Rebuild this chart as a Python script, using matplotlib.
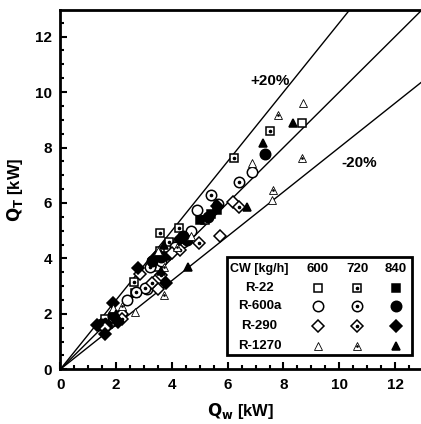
import matplotlib
matplotlib.use("Agg")
import matplotlib.pyplot as plt
from matplotlib.patches import Rectangle
from matplotlib.ticker import MultipleLocator

plt.rcParams['font.family'] = ['Liberation Sans', 'DejaVu Sans']
plt.rcParams['font.weight'] = 'bold'

# measured (Qw) vs calculated (Qt) heat load, kW
r22_600_w = [8.65, 2.2, 3.5, 1.8, 4.2, 5.2]
r22_600_t = [8.87, 1.96, 3.7, 1.7, 4.5, 5.4]
r22_720_w = [6.24, 7.52, 4.25, 3.57, 3.57, 2.64, 3.9, 1.6]
r22_720_t = [7.61, 8.61, 5.09, 4.91, 4.25, 3.16, 4.6, 1.8]
r22_840_w = [5.0, 5.4, 5.6, 3.8, 4.1, 2.68, 3.3, 1.7, 4.5]
r22_840_t = [5.4, 5.6, 5.75, 4.1, 4.35, 2.74, 3.85, 1.65, 4.8]

r600a_600_w = [6.86, 4.89, 5.67, 4.7, 3.1, 3.6, 1.5, 2.4, 4.1]
r600a_600_t = [7.13, 5.75, 5.96, 5.0, 2.91, 3.9, 1.6, 2.5, 4.4]
r600a_720_w = [6.39, 5.40, 3.2, 3.05, 4.4, 1.9, 2.7]
r600a_720_t = [6.75, 6.29, 3.7, 2.95, 4.6, 1.9, 2.8]
r600a_840_w = [7.34, 4.4, 4.55, 3.6, 3.3, 1.5, 1.4, 1.9, 5.3]
r600a_840_t = [7.77, 4.8, 4.65, 4.05, 3.9, 1.65, 1.6, 1.95, 5.5]

r290_600_w = [6.2, 5.72, 2.86, 3.5, 2.2, 1.6, 4.0]
r290_600_t = [6.03, 4.81, 3.44, 2.9, 2.0, 1.5, 4.2]
r290_720_w = [6.4, 4.97, 3.6, 3.3, 2.2, 4.3]
r290_720_t = [5.87, 4.57, 3.4, 3.1, 1.8, 4.3]
r290_840_w = [2.8, 1.9, 2.08, 1.6, 3.8, 3.4, 4.3, 5.6, 1.3]
r290_840_t = [3.64, 2.40, 1.72, 1.29, 3.1, 4.0, 4.7, 5.9, 1.6]

r1270_600_w = [8.69, 6.86, 7.58, 2.68, 3.5, 1.9, 4.7]
r1270_600_t = [9.62, 7.43, 6.11, 2.07, 4.25, 2.2, 4.8]
r1270_720_w = [7.79, 8.65, 7.63, 3.7, 3.7, 2.2, 4.2]
r1270_720_t = [9.17, 7.61, 6.47, 2.67, 3.7, 2.3, 4.4]
r1270_840_w = [8.35, 7.28, 6.68, 4.59, 3.6, 3.7, 2.0]
r1270_840_t = [8.87, 8.17, 5.87, 3.70, 3.55, 4.5, 2.0]

refrigerants = ['R-22', 'R-600a', 'R-290', 'R-1270']
flows = ['600', '720', '840']
band = [1.25, 1.0, 0.8]
line_end = 13

series = {
    ('R-22', '600'): (r22_600_w, r22_600_t),
    ('R-22', '720'): (r22_720_w, r22_720_t),
    ('R-22', '840'): (r22_840_w, r22_840_t),
    ('R-600a', '600'): (r600a_600_w, r600a_600_t),
    ('R-600a', '720'): (r600a_720_w, r600a_720_t),
    ('R-600a', '840'): (r600a_840_w, r600a_840_t),
    ('R-290', '600'): (r290_600_w, r290_600_t),
    ('R-290', '720'): (r290_720_w, r290_720_t),
    ('R-290', '840'): (r290_840_w, r290_840_t),
    ('R-1270', '600'): (r1270_600_w, r1270_600_t),
    ('R-1270', '720'): (r1270_720_w, r1270_720_t),
    ('R-1270', '840'): (r1270_840_w, r1270_840_t),
}

shape = {'R-22': ('s', 5.5), 'R-600a': ('o', 7.5), 'R-290': ('D', 6.5), 'R-1270': ('^', 5.5)}


def draw_marker(ax, x, y, ref, flow, **kw):
    m, size = shape[ref]
    dot = 1.6
    if ref == 'R-1270' and flow != '840':
        size = 5.5
        lw = 0.6
        dot = 0.9
    else:
        lw = 1.1
    face = 'black' if flow == '840' else 'white'
    ax.plot(x, y, linestyle='none', marker=m, markersize=size, markerfacecolor=face,
            markeredgecolor='black', markeredgewidth=lw, **kw)
    if flow == '720':
        ax.plot(x, y, linestyle='none', marker='o', markersize=dot, color='black', **kw)


fig = plt.figure(figsize=(4.21, 4.24), dpi=100)
ax = fig.add_axes([0.1432, 0.129, 0.8568, 0.8474])

for k in band:
    ax.plot([0, line_end], [0, k * line_end], color='black', linewidth=1.0, zorder=1)

for (ref, flow), (qw, qt) in series.items():
    draw_marker(ax, qw, qt, ref, flow, zorder=3)

ax.text(7.52, 10.4, '+20%', fontsize=11, fontweight='bold', ha='center', va='center')
ax.text(10.72, 7.45, '-20%', fontsize=11, fontweight='bold', ha='center', va='center')

ax.set_xlim(0, 12.93)
ax.set_ylim(0, 12.96)
ax.xaxis.set_major_locator(MultipleLocator(2))
ax.yaxis.set_major_locator(MultipleLocator(2))
ax.xaxis.set_minor_locator(MultipleLocator(0.5))
ax.yaxis.set_minor_locator(MultipleLocator(0.5))
ax.tick_params(which='both', direction='in', top=False, right=False, width=1.5)
ax.tick_params(which='major', length=5, labelsize=11, pad=6)
ax.tick_params(which='minor', length=3)
for lab in ax.get_xticklabels() + ax.get_yticklabels():
    lab.set_fontweight('bold')
ax.spines['right'].set_visible(False)
for s in ['left', 'bottom', 'top']:
    ax.spines[s].set_linewidth(2)

ax.set_xlabel(r'$\mathbf{Q_w}$ [kW]', fontsize=12, fontweight='bold', labelpad=7)
ax.set_ylabel(r'$\mathbf{Q_T}$ [kW]', fontsize=12, fontweight='bold', labelpad=7)

# table-style legend
ax.add_patch(Rectangle((0.462, 0.040), 0.513, 0.273, transform=ax.transAxes,
                       facecolor='white', edgecolor='black', linewidth=2, zorder=5))
row_y = [0.226, 0.176, 0.121, 0.065]
col_x = [0.714, 0.823, 0.931]
ax.text(0.552, 0.279, 'CW [kg/h]', transform=ax.transAxes, fontsize=9, fontweight='bold',
        ha='center', va='center', zorder=6)
for cx, flow in zip(col_x, flows):
    ax.text(cx, 0.279, flow, transform=ax.transAxes, fontsize=9.5, fontweight='bold',
            ha='center', va='center', zorder=6)
for ry, ref in zip(row_y, refrigerants):
    ax.text(0.552, ry, ref, transform=ax.transAxes, fontsize=9.5, fontweight='bold',
            ha='center', va='center', zorder=6)
    for cx, flow in zip(col_x, flows):
        draw_marker(ax, [cx], [ry], ref, flow, transform=ax.transAxes, zorder=7, clip_on=False)

fig.savefig('out.png', dpi=100)
